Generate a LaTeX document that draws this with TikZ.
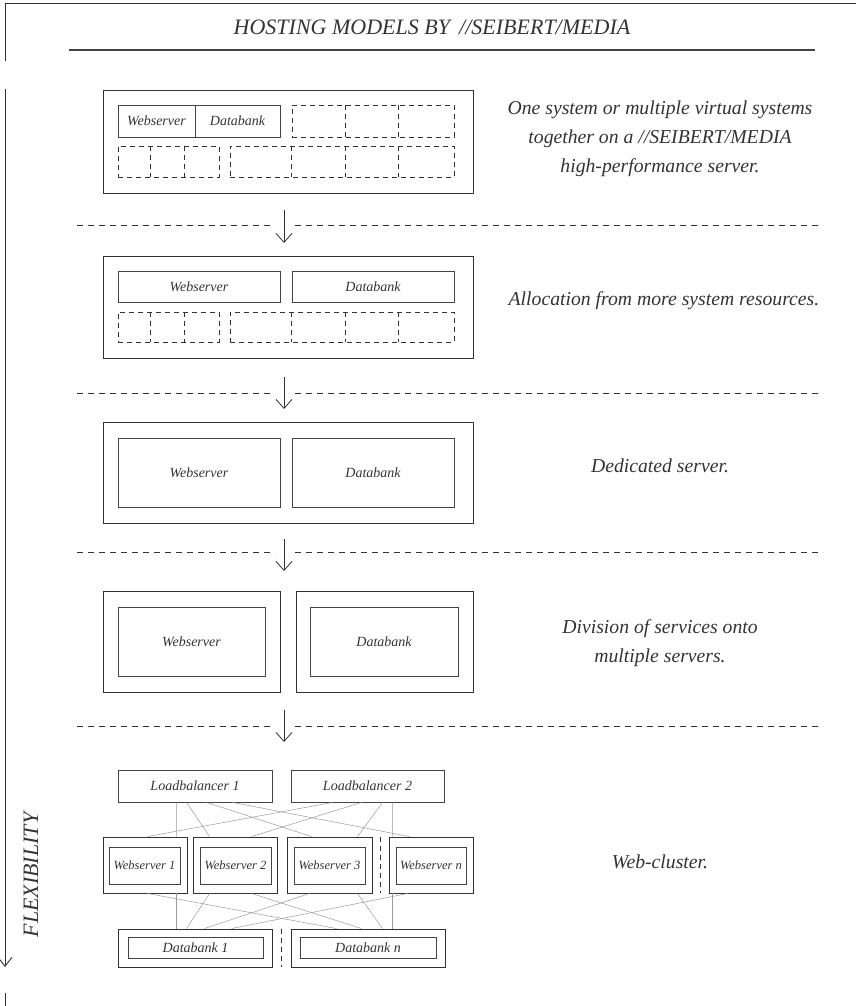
\documentclass[tikz,border=0pt]{standalone}
\usepackage{fontspec}
\setmainfont{Liberation Serif}
\usetikzlibrary{arrows.meta,calc}
\definecolor{ink}{HTML}{333333}
\definecolor{inkb}{HTML}{444444}
\definecolor{thinline}{HTML}{9A9A9A}
\begin{document}
\begin{tikzpicture}[x=1pt,y=-1pt,
  outer/.style={draw=ink,line width=0.9pt,inner sep=0pt},
  inbox/.style={draw=inkb,line width=0.8pt,inner sep=0pt,text=ink,font=\itshape\fontsize{14}{14}\selectfont},
  smallbox/.style={inbox,font=\itshape\fontsize{12.5}{12.5}\selectfont},
  dbox/.style={draw=ink,line width=0.8pt,dash pattern=on 5pt off 4pt,inner sep=0pt},
  dline/.style={draw=ink,line width=0.8pt,dash pattern=on 5pt off 4pt},
  sepline/.style={draw=ink,line width=0.8pt,dash pattern=on 6pt off 5pt},
  flow/.style={draw=ink,line width=0.8pt,-{Straight Barb[length=9pt,width=16pt]}},
  frame/.style={draw=ink,line width=0.9pt},
  link/.style={draw=thinline,line width=0.5pt},
  desc/.style={text=ink,font=\itshape\fontsize{19.7}{29}\selectfont,align=center,anchor=base},
  head/.style={text=ink,font=\itshape\fontsize{22}{22}\selectfont},
]
\useasboundingbox (0,0) rectangle (856,1006);

% frame
\coordinate (ftl) at (5,3);
\coordinate (ftr) at (856,3);
\coordinate (fa) at (5,61);
\coordinate (fb) at (5,89);
\coordinate (fc) at (5,967);
\coordinate (fd) at (5,993);
\coordinate (fe) at (5,1006);
\draw[frame] (ftr) -- (ftl) -- (fa);
\draw[frame,-{Straight Barb[length=9pt,width=14pt]}] (fb) -- (fc);
\draw[frame] (fd) -- (fe);

% title
\node[head,anchor=base] (title) at (432,35) {HOSTING MODELS BY \,//SEIBERT/MEDIA};
\coordinate (tl1) at (69,50);
\coordinate (tl2) at (815,50);
\draw[draw=inkb,line width=1.1pt] (tl1) -- (tl2);

% ---------- level 1
\node[outer,minimum width=370pt,minimum height=103pt] (b1) at (288,141.5) {};
\node[inbox,minimum width=77pt,minimum height=32pt] (b1w) at (156.5,121) {Webserver};
\node[inbox,minimum width=85pt,minimum height=32pt] (b1d) at (237.5,121) {Databank};
\node[dbox,minimum width=162pt,minimum height=32pt] (b1tr) at (373,121) {};
\draw[dline] ([xshift=54pt]b1tr.north west) -- ([xshift=54pt]b1tr.south west);
\draw[dline] ([xshift=107pt]b1tr.north west) -- ([xshift=107pt]b1tr.south west);
\node[dbox,minimum width=101pt,minimum height=31pt] (b1bl) at (168.5,161.5) {};
\draw[dline] ([xshift=33pt]b1bl.north west) -- ([xshift=33pt]b1bl.south west);
\draw[dline] ([xshift=67pt]b1bl.north west) -- ([xshift=67pt]b1bl.south west);
\node[dbox,minimum width=224pt,minimum height=31pt] (b1br) at (342,161.5) {};
\draw[dline] ([xshift=62pt]b1br.north west) -- ([xshift=62pt]b1br.south west);
\draw[dline] ([xshift=116pt]b1br.north west) -- ([xshift=116pt]b1br.south west);
\draw[dline] ([xshift=169pt]b1br.north west) -- ([xshift=169pt]b1br.south west);
\node[desc] (t1) at (660,172) {One system or multiple virtual systems\\together on a //SEIBERT/MEDIA\\high-performance server.};

% separator 1
\coordinate (s1a) at (77,225); \coordinate (s1b) at (275,225);
\coordinate (s1c) at (295,225); \coordinate (s1d) at (823,225);
\draw[sepline] (s1a) -- (s1b); \draw[sepline] (s1c) -- (s1d);
\coordinate (a1s) at (284,210); \coordinate (a1e) at (284,243);
\draw[flow] (a1s) -- (a1e);

% ---------- level 2
\node[outer,minimum width=370pt,minimum height=102pt] (b2) at (288,307) {};
\node[inbox,minimum width=162pt,minimum height=31pt] (b2w) at (199,286.5) {Webserver};
\node[inbox,minimum width=162pt,minimum height=31pt] (b2d) at (373,286.5) {Databank};
\node[dbox,minimum width=101pt,minimum height=30pt] (b2bl) at (168.5,327) {};
\draw[dline] ([xshift=33pt]b2bl.north west) -- ([xshift=33pt]b2bl.south west);
\draw[dline] ([xshift=67pt]b2bl.north west) -- ([xshift=67pt]b2bl.south west);
\node[dbox,minimum width=224pt,minimum height=30pt] (b2br) at (342,327) {};
\draw[dline] ([xshift=62pt]b2br.north west) -- ([xshift=62pt]b2br.south west);
\draw[dline] ([xshift=116pt]b2br.north west) -- ([xshift=116pt]b2br.south west);
\draw[dline] ([xshift=169pt]b2br.north west) -- ([xshift=169pt]b2br.south west);
\node[desc] (t2) at (664,305) {Allocation from more system resources.};

% separator 2
\coordinate (s2a) at (77,393); \coordinate (s2b) at (275,393);
\coordinate (s2c) at (295,393); \coordinate (s2d) at (823,393);
\draw[sepline] (s2a) -- (s2b); \draw[sepline] (s2c) -- (s2d);
\coordinate (a2s) at (284,377); \coordinate (a2e) at (284,409);
\draw[flow] (a2s) -- (a2e);

% ---------- level 3
\node[outer,minimum width=370pt,minimum height=101pt] (b3) at (288,472.5) {};
\node[inbox,minimum width=162pt,minimum height=69pt] (b3w) at (199,472.5) {Webserver};
\node[inbox,minimum width=162pt,minimum height=69pt] (b3d) at (373,472.5) {Databank};
\node[desc] (t3) at (660,472) {Dedicated server.};

% separator 3
\coordinate (s3a) at (77,552); \coordinate (s3b) at (275,552);
\coordinate (s3c) at (295,552); \coordinate (s3d) at (823,552);
\draw[sepline] (s3a) -- (s3b); \draw[sepline] (s3c) -- (s3d);
\coordinate (a3s) at (284,539); \coordinate (a3e) at (284,571);
\draw[flow] (a3s) -- (a3e);

% ---------- level 4
\node[outer,minimum width=177pt,minimum height=101pt] (b4l) at (191.5,641.5) {};
\node[inbox,minimum width=147pt,minimum height=69pt] (b4w) at (191.5,641.5) {Webserver};
\node[outer,minimum width=177pt,minimum height=101pt] (b4r) at (384.5,641.5) {};
\node[inbox,minimum width=148pt,minimum height=69pt] (b4d) at (384,641.5) {Databank};
\node[desc] (t4) at (660,662) {Division of services onto\\multiple servers.};

% separator 4
\coordinate (s4a) at (77,726); \coordinate (s4b) at (275,726);
\coordinate (s4c) at (295,726); \coordinate (s4d) at (823,726);
\draw[sepline] (s4a) -- (s4b); \draw[sepline] (s4c) -- (s4d);
\coordinate (a4s) at (284,710); \coordinate (a4e) at (284,742);
\draw[flow] (a4s) -- (a4e);

% ---------- level 5 : web cluster
\node[inbox,minimum width=154pt,minimum height=32pt] (lb1) at (195,786) {Loadbalancer 1};
\node[inbox,minimum width=153pt,minimum height=32pt] (lb2) at (367.5,786) {Loadbalancer 2};

\node[outer,minimum width=84pt,minimum height=56pt] (ws1) at (145,865) {};
\node[smallbox,minimum width=71pt,minimum height=37pt] (ws1i) at (144.5,865.5) {Webserver 1};
\node[outer,minimum width=84pt,minimum height=56pt] (ws2) at (235,865) {};
\node[smallbox,minimum width=71pt,minimum height=37pt] (ws2i) at (235.5,865.5) {Webserver 2};
\node[outer,minimum width=85pt,minimum height=56pt] (ws3) at (329.5,865) {};
\node[smallbox,minimum width=71pt,minimum height=37pt] (ws3i) at (329.5,865.5) {Webserver 3};
\node[outer,minimum width=84pt,minimum height=56pt] (wsn) at (431,865) {};
\node[smallbox,minimum width=70pt,minimum height=37pt] (wsni) at (431,865.5) {Webserver n};
\draw[dline] ($(ws3.north east)!0.5!(wsn.north west)$) -- ($(ws3.south east)!0.5!(wsn.south west)$);

\node[outer,minimum width=154pt,minimum height=38pt] (db1) at (195,948) {};
\node[inbox,minimum width=135pt,minimum height=21pt] (db1i) at (195.5,947.5) {Databank 1};
\node[outer,minimum width=154pt,minimum height=38pt] (dbn) at (368,948) {};
\node[inbox,minimum width=136pt,minimum height=21pt] (dbni) at (368,947.5) {Databank n};
\draw[dline] ($(db1.north east)!0.5!(dbn.north west)$) -- ($(db1.south east)!0.5!(dbn.south west)$);

% links LB -> WS
\draw[link] ([xshift=59pt]lb1.south west) -- ([xshift=74pt]ws1.north west);
\draw[link] ([xshift=69pt]lb1.south west) -- ([xshift=17pt]ws2.north west);
\draw[link] ([xshift=89pt]lb1.south west) -- ([xshift=25pt]ws3.north west);
\draw[link] ([xshift=115pt]lb1.south west) -- ([xshift=21pt]wsn.north west);
\draw[link] ([xshift=42pt]lb2.south west) -- ([xshift=45pt]ws1.north west);
\draw[link] ([xshift=71pt]lb2.south west) -- ([xshift=59pt]ws2.north west);
\draw[link] ([xshift=92pt]lb2.south west) -- ([xshift=71pt]ws3.north west);
\draw[link] ([xshift=102pt]lb2.south west) -- ([xshift=4pt]wsn.north west);
% links WS -> DB
\draw[link] ([xshift=74pt]ws1.south west) -- ([xshift=59pt]db1.north west);
\draw[link] ([xshift=45pt]ws1.south west) -- ([xshift=46pt]dbn.north west);
\draw[link] ([xshift=17pt]ws2.south west) -- ([xshift=69pt]db1.north west);
\draw[link] ([xshift=59pt]ws2.south west) -- ([xshift=71pt]dbn.north west);
\draw[link] ([xshift=23pt]ws3.south west) -- ([xshift=87pt]db1.north west);
\draw[link] ([xshift=71pt]ws3.south west) -- ([xshift=92pt]dbn.north west);
\draw[link] ([xshift=19pt]wsn.south west) -- ([xshift=114pt]db1.north west);
\draw[link] ([xshift=4pt]wsn.south west) -- ([xshift=102pt]dbn.north west);

\node[desc] (t5) at (660,868) {Web-cluster.};

% axis label
\node[head,rotate=90] (flex) at (31,875) {FLEXIBILITY};
\end{tikzpicture}
\end{document}
